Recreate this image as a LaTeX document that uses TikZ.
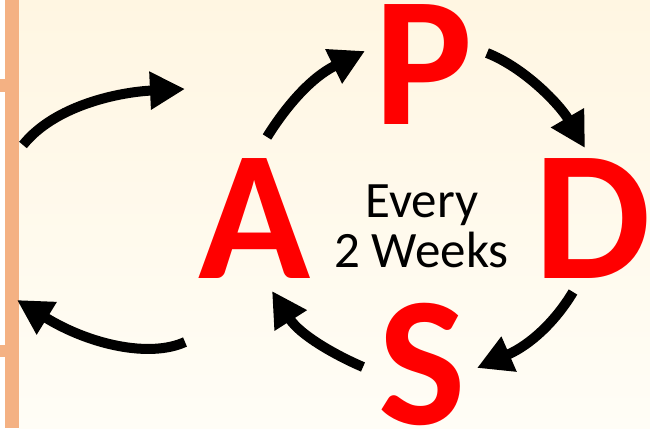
\documentclass[tikz,border=0pt]{standalone}
\usepackage{fontspec}
\setmainfont{Carlito}
\usetikzlibrary{arrows.meta}
\definecolor{barc}{RGB}{244,177,131}
\definecolor{bgtop}{RGB}{255,246,226}
\definecolor{bgbot}{RGB}{255,253,246}
\definecolor{pdred}{RGB}{255,0,0}
\begin{document}
\begin{tikzpicture}[x=1pt,y=-1pt,
  cyc/.style={line width=10pt, -{Triangle[length=35pt,width=36pt]}},
  big/.style={text=pdred, font=\bfseries\fontsize{185}{185}\selectfont, inner sep=0pt},
  lbl/.style={font=\fontsize{51}{51}\selectfont, inner sep=0pt, anchor=base}]
\useasboundingbox (0,0) rectangle (650,428);
\fill[white] (0,0) rectangle (650,428);
\shade[top color=bgtop, bottom color=bgbot] (19,0) rectangle (650,428);
\fill[barc] (5,0) rectangle (19,428);
\fill[barc] (0,79) rectangle (5,92);
\fill[barc] (0,345) rectangle (5,357);
% letters
\node[big] (A) at (255,218.5) {A};
\node[big] (P) at (424,65) {P};
\node[big] (D) at (593,218.5) {D};
\node[big] (S) at (422.5,364) {S};
% centre text
\node[lbl] (every) at (422,217) {Every};
\node[lbl] (weeks) at (421.5,267) {2 Weeks};
% arrow end points
\coordinate (t1) at (23,145);  \coordinate (h1) at (185,89);
\coordinate (t2) at (185,342); \coordinate (h2) at (17,300);
\coordinate (t3) at (267,137); \coordinate (h3) at (365,51);
\coordinate (t4) at (487,53);  \coordinate (h4) at (585,148);
\coordinate (t5) at (573,292); \coordinate (h5) at (477,368);
\coordinate (t6) at (363,367); \coordinate (h6) at (272,291);
\draw[cyc] (t1) .. controls (55,105) and (120,92) .. (h1);
\draw[cyc] (t2) .. controls (150,358) and (90,345) .. (h2);
\draw[cyc] (t3) .. controls (285,108) and (310,78) .. (h3);
\draw[cyc] (t4) .. controls (525,68) and (560,105) .. (h4);
\draw[cyc] (t5) .. controls (555,322) and (530,345) .. (h5);
\draw[cyc] (t6) .. controls (335,355) and (300,335) .. (h6);
\end{tikzpicture}
\end{document}
